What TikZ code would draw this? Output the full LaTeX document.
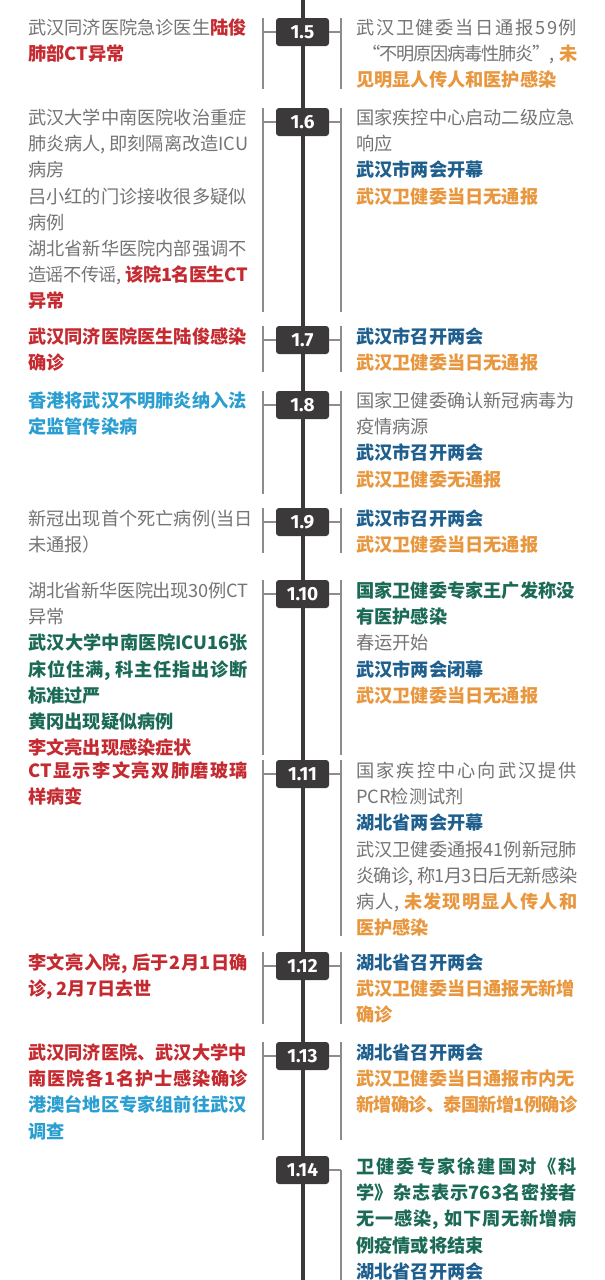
\documentclass[tikz,border=0pt]{standalone}
\usepackage{fontspec}
\newfontfamily\cjk{Noto Sans CJK SC}
\newfontfamily\datefont{Fira Sans}
\definecolor{gry}{HTML}{747474}
\definecolor{cred}{HTML}{C42A30}
\definecolor{corg}{HTML}{E8973E}
\definecolor{cblu}{HTML}{1E5F8E}
\definecolor{ccya}{HTML}{2A9ED0}
\definecolor{cgrn}{HTML}{1B6A56}
\definecolor{cbox}{HTML}{3B393A}
\definecolor{cbrk}{HTML}{8C8C8C}
\newcommand\cRed[1]{{\color{cred}\bfseries #1}}
\newcommand\cOrg[1]{{\color{corg}\bfseries #1}}
\newcommand\cBlu[1]{{\color{cblu}\bfseries #1}}
\newcommand\cCya[1]{{\color{ccya}\bfseries #1}}
\newcommand\cGrn[1]{{\color{cgrn}\bfseries #1}}
\newcommand\cm{,\hspace{4pt}}
\newcommand\jglue{\hskip 0pt plus 1pt minus 2pt\relax}
\def\spreadstop{\spreadstop}
\def\spreadit#1{\spreadloop#1\spreadstop\unskip}
\def\spreadloop#1{\ifx\spreadstop#1\else#1\jglue\expandafter\spreadloop\fi}
\newcommand\jb[2][220pt]{\hbox to #1{#2}}
\newcommand\brackets[3]{%
  \coordinate (l#1t) at (263,#2); \coordinate (l#1b) at (263,#3);
  \coordinate (r#1t) at (341,#2); \coordinate (r#1b) at (341,#3);
  \draw[brk] (l#1t) -- (l#1b); \draw[brk] (r#1t) -- (r#1b);
  \draw[brk] (d#1.west) -- (d#1.west -| l#1t);
  \draw[brk] (d#1.east) -- (d#1.east -| r#1t);}
\tikzset{
  datebox/.style={fill=cbox, rounded corners=3pt, minimum width=53pt, minimum height=28pt,
    inner sep=0pt, text=white, font=\datefont\bfseries\fontsize{19}{19}\selectfont},
  spine/.style={draw=cbox, line width=4pt},
  brk/.style={draw=cbrk, line width=1.1pt},
  txt/.style={anchor=north west, inner sep=0pt, align=left, text=gry,
    font=\cjk\fontsize{18.2}{26.2}\selectfont},
}
\begin{document}
\begin{tikzpicture}[x=1pt,y=-1pt]
\fill[white] (0,0) rectangle (605,1280);
\useasboundingbox (0,0) rectangle (605,1280);
\coordinate (top) at (302.5,0);
\coordinate (bot) at (302.5,1280);
\draw[spine] (top) -- (bot);

% 1.5
\node[datebox] (d5) at (302.5,32) {1.5};
\brackets{5}{18}{89}
\node[txt] (L5) at (28,16) {\strut 武汉同济医院急诊医生\cRed{陆俊}\\ \cRed{肺部CT异常}};
\node[txt] (R5) at (356,16) {\strut\jb[221pt]{\spreadit{武汉卫健委当日通报59例}}\\ \jb[221pt]{\hspace*{6pt}\spreadit{“不明原因病毒性肺炎”\cm}\cOrg{未}}\\ \cOrg{见明显人传人和医护感染}};

% 1.6
\node[datebox] (d6) at (302.5,122) {1.6};
\brackets{6}{108}{312}
\node[txt] (L6) at (28,106) {\strut 武汉大学中南医院收治重症\\ \jb{\spreadit{肺炎病人\cm 即刻隔离改造{ICU}}}\\ 病房\\ 吕小红的门诊接收很多疑似\\ 病例\\ 湖北省新华医院内部强调不\\ \jb{\spreadit{造谣不传谣\cm}\cRed{\spreadit{该院1名医生{CT}}}}\\ \cRed{异常}};
\node[txt] (R6) at (356,106) {\strut 国家疾控中心启动二级应急\\ 响应\\ \cBlu{武汉市两会开幕}\\ \cOrg{武汉卫健委当日无通报}};

% 1.7
\node[datebox] (d7) at (302.5,340) {1.7};
\brackets{7}{326}{372}
\node[txt] (L7) at (28,325) {\strut\cRed{武汉同济医院医生陆俊感染}\\ \cRed{确诊}};
\node[txt] (R7) at (356,325) {\strut\cBlu{武汉市召开两会}\\ \cOrg{武汉卫健委当日无通报}};

% 1.8
\node[datebox] (d8) at (302.5,405) {1.8};
\brackets{8}{391}{494}
\node[txt] (L8) at (28,389) {\strut\cCya{香港将武汉不明肺炎纳入法}\\ \cCya{定监管传染病}};
\node[txt] (R8) at (356,389) {\strut 国家卫健委确认新冠病毒为\\ 疫情病源\\ \cBlu{武汉市召开两会}\\ \cOrg{武汉卫健委无通报}};

% 1.9
\node[datebox] (d9) at (302.5,522) {1.9};
\brackets{9}{508}{553}
\node[txt] (L9) at (28,507) {\strut 新冠出现首个死亡病例(当日\\ 未通报）};
\node[txt] (R9) at (356,507) {\strut\cBlu{武汉市召开两会}\\ \cOrg{武汉卫健委当日无通报}};

% 1.10
\node[datebox] (d10) at (302.5,594) {1.10};
\brackets{10}{580}{755}
\node[txt] (L10) at (28,579) {\strut\jb{\spreadit{湖北省新华医院出现{30}例{CT}}}\\ 异常\\ \jb{\cGrn{\spreadit{武汉大学中南医院{ICU16}张}}}\\ \jb{\cGrn{\spreadit{床位住满\cm 科主任指出诊断}}}\\ \cGrn{标准过严}\\ \cGrn{黄冈出现疑似病例}\\ \cRed{李文亮出现感染症状}};
\node[txt] (R10) at (356,579) {\strut\cGrn{国家卫健委专家王广发称没}\\ \cGrn{有医护感染}\\ 春运开始\\ \cBlu{武汉市两会闭幕}\\ \cOrg{武汉卫健委当日无通报}};

% 1.11
\node[datebox] (d11) at (302.5,774) {1.11};
\brackets{11}{760}{936}
\node[txt] (L11) at (28,759) {\strut\jb{\cRed{\spreadit{{CT}显示李文亮双肺磨玻璃}}}\\ \cRed{样病变}};
\node[txt] (R11) at (356,759) {\strut\jb[221pt]{\spreadit{国家疾控中心向武汉提供}}\\ PCR检测试剂\\ \cBlu{湖北省两会开幕}\\ 武汉卫健委通报41例新冠肺\\ \jb[221pt]{\spreadit{炎确诊\cm 称1月3日后无新感染}}\\ \jb[221pt]{\spreadit{病人\cm}\cOrg{\spreadit{未发现明显人传人和}}}\\ \cOrg{医护感染}};

% 1.12
\node[datebox] (d12) at (302.5,966) {1.12};
\brackets{12}{952}{1024}
\node[txt] (L12) at (28,951) {\strut\jb{\cRed{\spreadit{李文亮入院\cm 后于2月1日确}}}\\ \cRed{诊\cm 2月7日去世}};
\node[txt] (R12) at (356,951) {\strut\cBlu{湖北省召开两会}\\ \cOrg{武汉卫健委当日通报无新增}\\ \cOrg{确诊}};

% 1.13
\node[datebox] (d13) at (302.5,1056) {1.13};
\brackets{13}{1042}{1140}
\node[txt] (L13) at (28,1041) {\strut\cRed{武汉同济医院、武汉大学中}\\ \jb{\cRed{\spreadit{南医院各1名护士感染确诊}}}\\ \cCya{港澳台地区专家组前往武汉}\\ \cCya{调查}};
\node[txt] (R13) at (356,1041) {\strut\cBlu{湖北省召开两会}\\ \cOrg{武汉卫健委当日通报市内无}\\ \jb[221pt]{\cOrg{\spreadit{新增确诊、泰国新增1例确诊}}}};

% 1.14
\node[datebox] (d14) at (302.5,1170) {1.14};
\coordinate (r14t) at (341,1170);
\coordinate (r14b) at (341,1280);
\draw[brk] (r14t) -- (r14b);
\draw[brk] (d14.east) -- (r14t);
\node[txt] (R14) at (356,1155) {\strut\jb[221pt]{\cGrn{\spreadit{卫健委专家徐建国对《科}}}\\ \jb[221pt]{\cGrn{\spreadit{学》杂志表示{763}名密接者}}}\\ \jb[221pt]{\cGrn{\spreadit{无一感染\cm 如下周无新增病}}}\\ \cGrn{例疫情或将结束}\\ \cBlu{湖北省召开两会}};
\end{tikzpicture}
\end{document}
